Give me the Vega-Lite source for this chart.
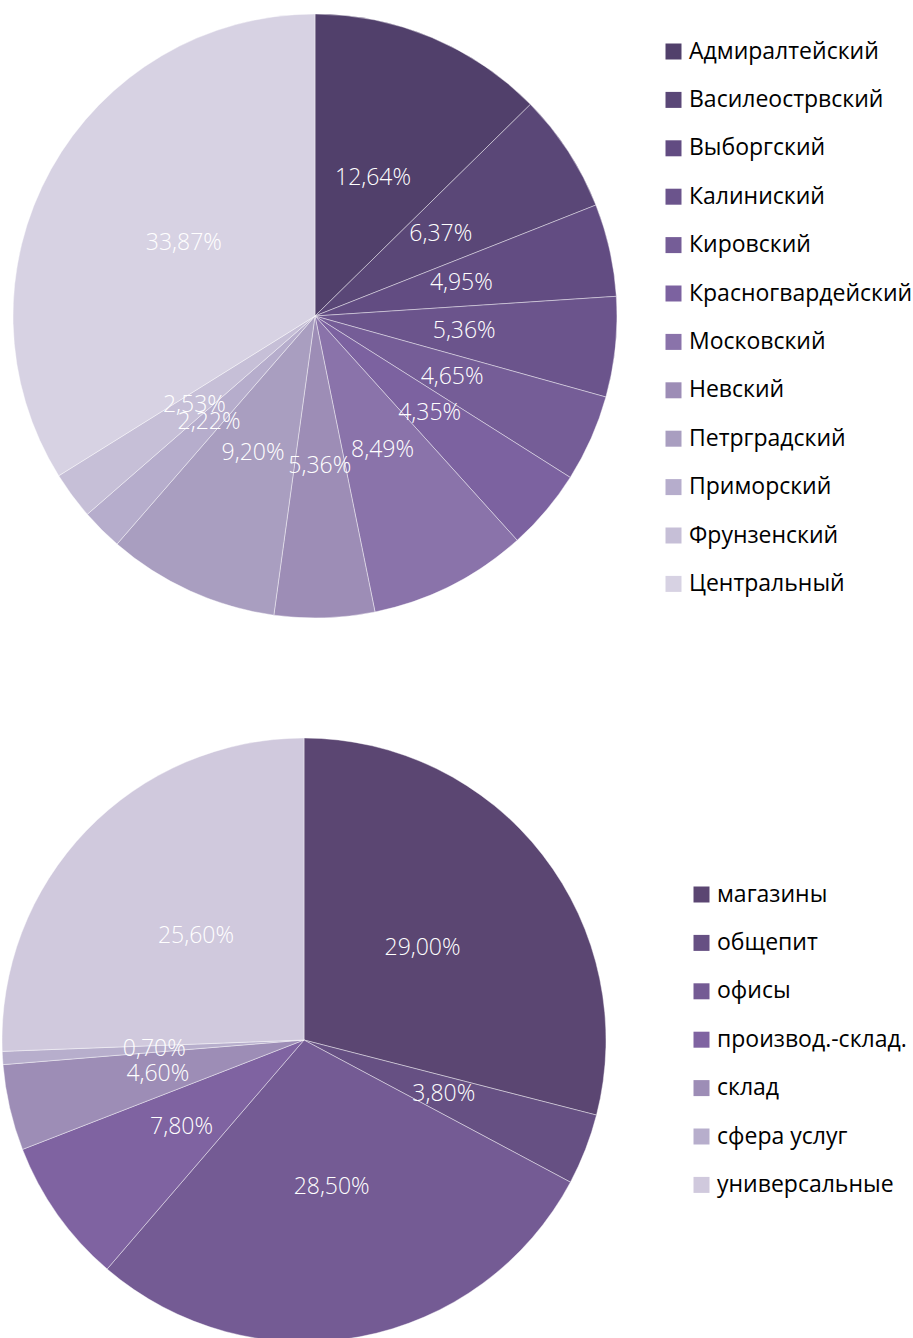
{
  "$schema": "https://vega.github.io/schema/vega-lite/v6.json",
  "padding": 0,
  "background": "white",
  "spacing": 104,
  "config": {
    "view": {"stroke": null},
    "legend": {"padding": 0},
    "font": "Open Sans"
  },
  "resolve": {"scale": {"color": "independent"}},
  "vconcat": [
    {
      "width": 628,
      "height": 632,
      "data": {
        "values": [
          {"idx": 1, "district": "Адмиралтейский", "value": 12.64, "label": "12,64%"},
          {"idx": 2, "district": "Василеострвский", "value": 6.37, "label": "6,37%"},
          {"idx": 3, "district": "Выборгский", "value": 4.95, "label": "4,95%"},
          {"idx": 4, "district": "Калиниский", "value": 5.36, "label": "5,36%"},
          {"idx": 5, "district": "Кировский", "value": 4.65, "label": "4,65%"},
          {"idx": 6, "district": "Красногвардейский", "value": 4.35, "label": "4,35%"},
          {"idx": 7, "district": "Московский", "value": 8.49, "label": "8,49%"},
          {"idx": 8, "district": "Невский", "value": 5.36, "label": "5,36%"},
          {"idx": 9, "district": "Петрградский", "value": 9.20, "label": "9,20%"},
          {"idx": 10, "district": "Приморский", "value": 2.22, "label": "2,22%"},
          {"idx": 11, "district": "Фрунзенский", "value": 2.53, "label": "2,53%"},
          {"idx": 12, "district": "Центральный", "value": 33.87, "label": "33,87%"}
        ]
      },
      "encoding": {
        "theta": {"field": "value", "type": "quantitative", "stack": true},
        "order": {"field": "idx", "type": "quantitative"},
        "color": {
          "field": "district",
          "type": "nominal",
          "sort": null,
          "scale": {
            "domain": ["Адмиралтейский", "Василеострвский", "Выборгский", "Калиниский", "Кировский", "Красногвардейский", "Московский", "Невский", "Петрградский", "Приморский", "Фрунзенский", "Центральный"],
            "range": ["#51406b", "#5a4777", "#624c82", "#6b548c", "#755d97", "#7c62a0", "#8a73aa", "#9d8db6", "#a99ec0", "#b6adcc", "#c6bfd7", "#d7d2e3"]
          },
          "legend": {
            "title": null,
            "orient": "none",
            "legendX": 661,
            "legendY": 40,
            "symbolType": "square",
            "symbolSize": 256,
            "symbolStrokeWidth": 0,
            "symbolOpacity": 1,
            "labelFontSize": 23,
            "labelFont": "Open Sans",
            "labelColor": "#000000",
            "labelOffset": 4,
            "rowPadding": 24.4,
            "labelLimit": 400
          }
        }
      },
      "layer": [
        {
          "mark": {"type": "arc", "outerRadius": 302, "stroke": "#ffffff", "strokeWidth": 0.6, "strokeOpacity": 0.7}
        },
        {
          "mark": {"type": "text", "radius": 150, "fill": "#ffffff", "fontSize": 23, "font": "Open Sans", "fontWeight": 300},
          "encoding": {
            "text": {"field": "label", "type": "nominal"},
            "color": {"value": "#ffffff"}
          }
        }
      ]
    },
    {
      "width": 606,
      "height": 604,
      "data": {
        "values": [
          {"idx": 1, "kind": "магазины", "value": 29.0, "label": "29,00%"},
          {"idx": 2, "kind": "общепит", "value": 3.8, "label": "3,80%"},
          {"idx": 3, "kind": "офисы", "value": 28.5, "label": "28,50%"},
          {"idx": 4, "kind": "производ.-склад.", "value": 7.8, "label": "7,80%"},
          {"idx": 5, "kind": "склад", "value": 4.6, "label": "4,60%"},
          {"idx": 6, "kind": "сфера услуг", "value": 0.7, "label": "0,70%"},
          {"idx": 7, "kind": "универсальные", "value": 25.6, "label": "25,60%"}
        ]
      },
      "encoding": {
        "theta": {"field": "value", "type": "quantitative", "stack": true},
        "order": {"field": "idx", "type": "quantitative"},
        "color": {
          "field": "kind",
          "type": "nominal",
          "sort": null,
          "scale": {
            "domain": ["магазины", "общепит", "офисы", "производ.-склад.", "склад", "сфера услуг", "универсальные"],
            "range": ["#5b4672", "#665083", "#745b94", "#7f63a1", "#9d8db6", "#b7aecc", "#d0c9dd"]
          },
          "legend": {
            "title": null,
            "orient": "none",
            "legendX": 689,
            "legendY": 145,
            "symbolType": "square",
            "symbolSize": 256,
            "symbolStrokeWidth": 0,
            "symbolOpacity": 1,
            "labelFontSize": 23,
            "labelFont": "Open Sans",
            "labelColor": "#000000",
            "labelOffset": 4,
            "rowPadding": 24.4,
            "labelLimit": 400
          }
        }
      },
      "layer": [
        {
          "mark": {"type": "arc", "outerRadius": 302, "stroke": "#ffffff", "strokeWidth": 0.6, "strokeOpacity": 0.7}
        },
        {
          "mark": {"type": "text", "radius": 150, "fill": "#ffffff", "fontSize": 23, "font": "Open Sans", "fontWeight": 300},
          "encoding": {
            "text": {"field": "label", "type": "nominal"},
            "color": {"value": "#ffffff"}
          }
        }
      ]
    }
  ]
}
